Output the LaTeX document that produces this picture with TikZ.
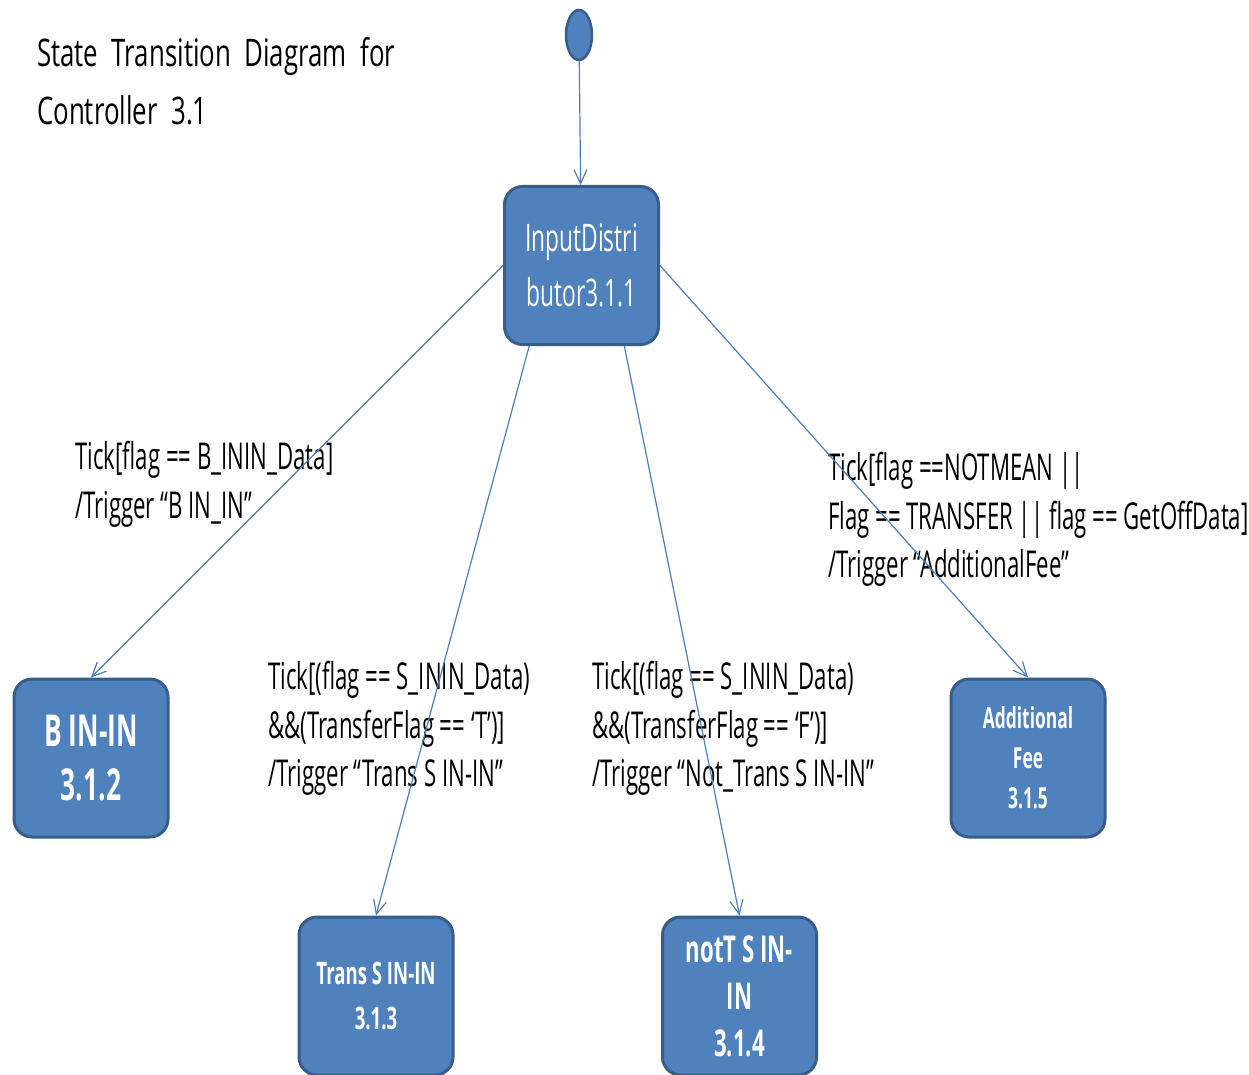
\documentclass[tikz,border=0pt]{standalone}
\usepackage{fontspec}
\setmainfont{Open Sans}[FakeStretch=0.60]
\newfontfamily\titlefont{Open Sans}[FakeStretch=0.68, WordSpace=2]
\usepackage{tikz}
\usetikzlibrary{shapes,arrows,arrows.meta,positioning}
\definecolor{stateblue}{HTML}{4F81BD}
\definecolor{stateborder}{HTML}{385D8A}
\definecolor{edgeblue}{HTML}{4A7EBB}
\tikzset{
  statebox/.style  = {draw=stateborder, fill=stateblue, line width=3pt, rounded corners=18pt,
                      text=white, align=center, minimum width=154pt, minimum height=158pt, inner sep=0pt},
  initstate/.style = {ellipse, draw=stateborder, fill=stateblue, line width=2.5pt,
                      minimum width=26pt, minimum height=50pt, inner sep=0pt},
  transedge/.style = {edgeblue, line width=1.2pt, ->, >={Straight Barb[length=14pt,width=13pt]}},
  guard/.style     = {anchor=north west, align=left, inner sep=0pt, font=\fontsize{37}{48.5}\selectfont},
}

\begin{document}
\begin{tikzpicture}[x=1pt,y=-1pt]
    \useasboundingbox (0,0) rectangle (1249,1075);
    % title
    \node [anchor=north west, align=left, inner sep=0pt, font=\titlefont\fontsize{38}{58}\selectfont]
        (title) at (37,37) {State Transition Diagram for\\Controller 3.1};

    % states
    \node [initstate] (init) at (579,35) {};
    \node [statebox, font=\fontsize{38}{55}\selectfont] (input) at (581.5,265.5) {InputDistri\\butor3.1.1};
    \node [statebox, font=\fontsize{44}{54}\selectfont\bfseries] (bin) at (91,758) {B IN-IN\\3.1.2};
    \node [statebox, font=\fontsize{31}{45}\selectfont\bfseries] (trans) at (376,996) {Trans S IN-IN\\3.1.3};
    \node [statebox, font=\fontsize{37}{47}\selectfont\bfseries] (nott) at (739.5,996) {notT S IN-\\IN\\3.1.4};
    \node [statebox, font=\fontsize{29}{40}\selectfont\bfseries] (addfee) at (1028,758) {Additional\\Fee\\3.1.5};

    % guards
    \node [guard] (gbin) at (75,441) {Tick[flag == B\_ININ\_Data]\\/Trigger “B IN\_IN”};
    \node [guard] (gtrans) at (268,661) {Tick[(flag == S\_ININ\_Data)\\\&\&(TransferFlag == ‘T’)]\\/Trigger “Trans S IN-IN”};
    \node [guard] (gnott) at (592,661) {Tick[(flag == S\_ININ\_Data)\\\&\&(TransferFlag == ‘F’)]\\/Trigger “Not\_Trans S IN-IN”};
    \node [guard] (gfee) at (828,452) {Tick[flag ==NOTMEAN ||\\Flag == TRANSFER || flag == GetOffData]\\/Trigger “AdditionalFee”};

    \path (init) edge[transedge] (input);
    \path (input.west) edge[transedge] (bin.north);
    \path (input.237) edge[transedge] (trans.north);
    \path (input.298) edge[transedge] (nott.north);
    \path (input.east) edge[transedge] (addfee.north);
\end{tikzpicture}
\end{document}
